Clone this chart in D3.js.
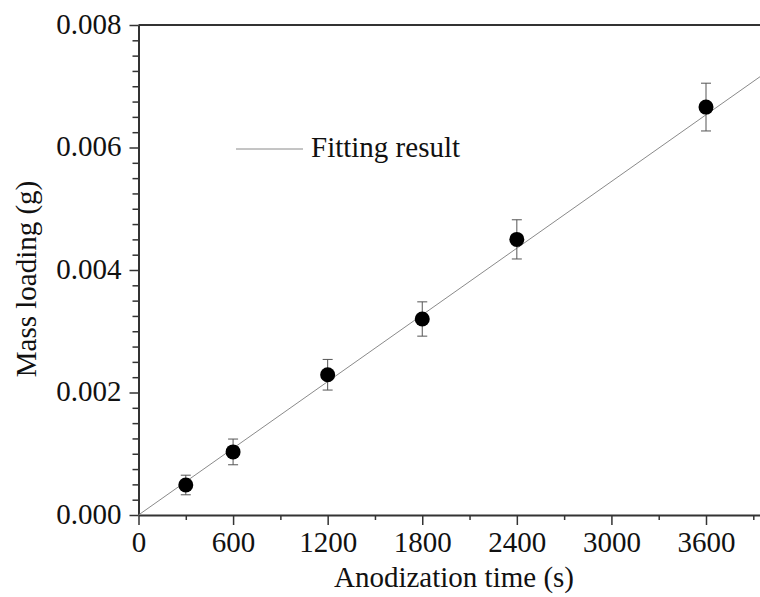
<!DOCTYPE html>
<html>
<head>
<meta charset="utf-8">
<script src="https://cdn.jsdelivr.net/npm/d3@7"></script>
<style>
  html, body { margin: 0; padding: 0; background: #fff; overflow: hidden; }
  svg { display: block; }
  text { font-family: "Liberation Serif", "Times New Roman", serif; fill: #111; }
</style>
</head>
<body>
<div id="chart"></div>
<script>
// anodization time (s) vs mass loading (g)
var times = [300, 600, 1200, 1800, 2400, 3600];
var mass = [0.00049, 0.00103, 0.00229, 0.00320, 0.00450, 0.00666];
var errs = [0.00016, 0.00021, 0.00025, 0.00028, 0.00032, 0.00039];

var xTicks = [0, 600, 1200, 1800, 2400, 3000, 3600];
var xMinor = [300, 900, 1500, 2100, 2700, 3300, 3900];
var yTicks = [0, 0.002, 0.004, 0.006, 0.008];

// linear fit through origin
var fitSlope = 1.815e-6;
var fitIntercept = 0;
var fitRange = [0, 4000];

var width = 760, height = 597;
var plotLeft = 138.5, plotTop = 25, plotBottom = 515;

var svg = d3.select('#chart').append('svg')
    .attr('width', width)
    .attr('height', height);

var x = d3.scaleLinear().domain([0, 4000]).range([plotLeft, plotLeft + 4000 * 567.5 / 3600]);
var y = d3.scaleLinear().domain([0, 0.008]).range([plotBottom, plotTop]);

var fontSize = 29;
var axisColor = '#333';

// top frame line
svg.append('line')
    .attr('x1', plotLeft).attr('x2', x(4000))
    .attr('y1', plotTop).attr('y2', plotTop)
    .style('stroke', axisColor)
    .style('stroke-width', 2);

// x axis minor ticks
svg.append('g')
    .attr('transform', 'translate(0,' + plotBottom + ')')
    .call(d3.axisBottom(x).tickValues(xMinor).tickSize(5).tickSizeOuter(0).tickFormat(''))
    .call(function (g) { g.select('.domain').remove(); })
    .selectAll('line').style('stroke', axisColor).style('stroke-width', 1.5);

// y axis minor ticks
var yMinor = d3.range(0, 0.008001, 0.00025).filter(function (v) {
    return Math.abs(v / 0.002 - Math.round(v / 0.002)) > 1e-6;
});
svg.append('g')
    .attr('transform', 'translate(' + plotLeft + ',0)')
    .call(d3.axisLeft(y).tickValues(yMinor).tickSize(6).tickSizeOuter(0).tickFormat(''))
    .call(function (g) { g.select('.domain').remove(); })
    .selectAll('line').style('stroke', axisColor).style('stroke-width', 1.5);

// x axis
var xAxis = svg.append('g')
    .attr('transform', 'translate(0,' + plotBottom + ')')
    .call(d3.axisBottom(x).tickValues(xTicks).tickSize(10).tickPadding(6).tickSizeOuter(0).tickFormat(d3.format('d')));
xAxis.select('.domain').style('stroke', axisColor).style('stroke-width', 2);
xAxis.selectAll('.tick line').style('stroke', axisColor).style('stroke-width', 1.5);
xAxis.selectAll('.tick text')
    .style('font-family', '"Liberation Serif", serif')
    .style('font-size', fontSize + 'px')
    .style('fill', '#111');

// y axis
var yAxis = svg.append('g')
    .attr('transform', 'translate(' + plotLeft + ',0)')
    .call(d3.axisLeft(y).tickValues(yTicks).tickSize(9).tickPadding(8).tickSizeOuter(0).tickFormat(d3.format('.3f')));
yAxis.select('.domain').style('stroke', axisColor).style('stroke-width', 2);
yAxis.selectAll('.tick line').style('stroke', axisColor).style('stroke-width', 1.5);
yAxis.selectAll('.tick text')
    .attr('dy', '0.28em')
    .style('font-family', '"Liberation Serif", serif')
    .style('font-size', fontSize + 'px')
    .style('fill', '#111');

// axis titles
svg.append('text')
    .attr('x', 454)
    .attr('y', 587)
    .attr('text-anchor', 'middle')
    .style('font-size', fontSize + 'px')
    .text('Anodization time (s)');

svg.append('text')
    .attr('transform', 'translate(36,279) rotate(-90)')
    .attr('text-anchor', 'middle')
    .style('font-size', fontSize + 'px')
    .text('Mass loading (g)');

// fitting line
var plot = svg.append('g');
plot.append('line')
    .attr('x1', x(fitRange[0]))
    .attr('y1', y(fitIntercept + fitSlope * fitRange[0]))
    .attr('x2', x(fitRange[1]))
    .attr('y2', y(fitIntercept + fitSlope * fitRange[1]))
    .style('stroke', '#8a8a8a')
    .style('stroke-width', 1);

var data = times.map(function (t, i) { return { t: t, m: mass[i], e: errs[i] }; });

// error bars
var bars = plot.selectAll('g.err')
    .data(data)
    .enter()
    .append('g')
    .classed('err', true)
    .style('stroke', '#555')
    .style('stroke-width', 1);
bars.append('line')
    .attr('x1', function (d) { return x(d.t); })
    .attr('x2', function (d) { return x(d.t); })
    .attr('y1', function (d) { return y(d.m + d.e); })
    .attr('y2', function (d) { return y(d.m - d.e); });
bars.append('line')
    .attr('x1', function (d) { return x(d.t) - 5; })
    .attr('x2', function (d) { return x(d.t) + 5; })
    .attr('y1', function (d) { return y(d.m + d.e); })
    .attr('y2', function (d) { return y(d.m + d.e); });
bars.append('line')
    .attr('x1', function (d) { return x(d.t) - 5; })
    .attr('x2', function (d) { return x(d.t) + 5; })
    .attr('y1', function (d) { return y(d.m - d.e); })
    .attr('y2', function (d) { return y(d.m - d.e); });

// points
plot.selectAll('circle')
    .data(data)
    .enter()
    .append('circle')
    .attr('cx', function (d) { return x(d.t); })
    .attr('cy', function (d) { return y(d.m); })
    .attr('r', 7.5)
    .style('fill', '#000');

// legend
var legend = svg.append('g');
legend.append('line')
    .attr('x1', 236).attr('x2', 303)
    .attr('y1', 149).attr('y2', 149)
    .style('stroke', '#8a8a8a')
    .style('stroke-width', 1);
legend.append('text')
    .attr('x', 311)
    .attr('y', 157)
    .style('font-size', fontSize + 'px')
    .text('Fitting result');
</script>
</body>
</html>
